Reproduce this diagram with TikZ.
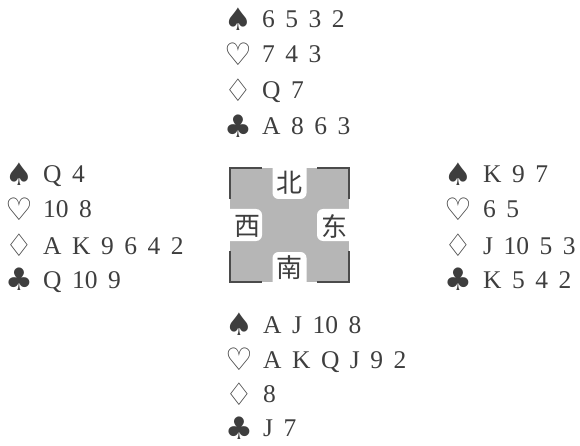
\documentclass[tikz,border=0pt]{standalone}
\usepackage{fontspec}
\setmainfont{Liberation Serif}
\newfontfamily\suitfont{DejaVu Sans}
\newfontfamily\cjkfont{Noto Sans CJK SC}
\definecolor{ink}{RGB}{62,62,62}
\definecolor{boxgray}{RGB}{182,182,182}
\definecolor{brk}{RGB}{75,75,75}
\newcommand\widesp{\spaceskip=10.5pt plus 0pt minus 0pt\relax}
\tikzset{
  suit/.style={inner sep=0pt, text=ink, font=\suitfont\fontsize{31}{31}\selectfont},
  cards/.style={inner sep=0pt, anchor=base west, text=ink,
    font=\fontsize{25.5}{25.5}\selectfont, execute at begin node=\widesp},
  dir/.style={inner sep=0pt, text=ink, font=\cjkfont\fontsize{26}{26}\selectfont},
  bracket/.style={draw=brk, line width=1.4pt},
}
\begin{document}
\begin{tikzpicture}[x=1pt,y=-1pt]
\useasboundingbox (0,0) rectangle (580,446);
% centre compass box
\fill[boxgray] (230,168) rectangle (349,282);
\fill[white, rounded corners=6pt] (272.5,150) rectangle (306.5,199);
\fill[white, rounded corners=6pt] (272.5,252) rectangle (306.5,300);
\fill[white, rounded corners=6pt] (212,209) rectangle (262,241);
\fill[white, rounded corners=6pt] (317,209) rectangle (367,241);
\draw[bracket] (230,199) -- (230,168) -- (262,168);
\draw[bracket] (317,168) -- (349,168) -- (349,199);
\draw[bracket] (230,251) -- (230,282) -- (262,282);
\draw[bracket] (317,282) -- (349,282) -- (349,251);
\node[dir] (bei) at (289.5,183) {北};
\node[dir] (xi) at (247,226) {西};
\node[dir] (dong) at (334,226) {东};
\node[dir] (nan) at (289.5,268) {南};
% North
\node[suit] (ns) at (238.5,19.5) {♠};
\node[cards] (nst) at (262,28) {6 5 3 2};
\node[suit] (nh) at (238.5,54.5) {♡};
\node[cards] (nht) at (262,63) {7 4 3};
\node[suit] (nd) at (238.5,90.5) {♢};
\node[cards] (ndt) at (262,99) {Q 7};
\node[suit] (nc) at (238.5,126.5) {♣};
\node[cards] (nct) at (262,135) {A 8 6 3};
% West
\node[suit] (ws) at (19,174.5) {♠};
\node[cards] (wst) at (43,183) {Q 4};
\node[suit] (wh) at (19,209.5) {♡};
\node[cards] (wht) at (43,218) {10 8};
\node[suit] (wd) at (19,245.5) {♢};
\node[cards] (wdt) at (43,254) {A K 9 6 4 2};
\node[suit] (wc) at (19,279.5) {♣};
\node[cards] (wct) at (43,288) {Q 10 9};
% East
\node[suit] (es) at (458,174.5) {♠};
\node[cards] (est) at (483,183) {K 9 7};
\node[suit] (eh) at (458,209.5) {♡};
\node[cards] (eht) at (483,218) {6 5};
\node[suit] (ed) at (458,245.5) {♢};
\node[cards] (edt) at (483,254) {J 10 5 3};
\node[suit] (ec) at (458,279.5) {♣};
\node[cards] (ect) at (483,288) {K 5 4 2};
% South
\node[suit] (ss) at (239,324.5) {♠};
\node[cards] (sst) at (263,333) {A J 10 8};
\node[suit] (sh) at (239,359.5) {♡};
\node[cards] (sht) at (263,368) {A K Q J 9 2};
\node[suit] (sd) at (239,394) {♢};
\node[cards] (sdt) at (263,402.5) {8};
\node[suit] (sc) at (239,428) {♣};
\node[cards] (sct) at (263,436.5) {J 7};
\end{tikzpicture}
\end{document}
